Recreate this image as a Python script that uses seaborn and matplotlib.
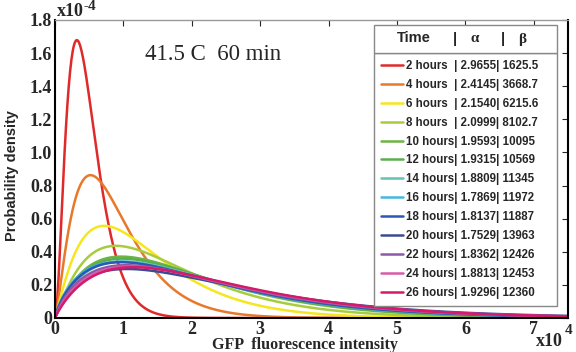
import math
import numpy as np
import pandas as pd
import seaborn as sns
import matplotlib
matplotlib.use("Agg")
import matplotlib.pyplot as plt
from matplotlib.patches import Rectangle

# gamma fit parameters
hours = [2, 4, 6, 8, 10, 12, 14, 16, 18, 20, 22, 24, 26]
alpha_txt = ["2.9655", "2.4145", "2.1540", "2.0999", "1.9593", "1.9315", "1.8809",
             "1.7869", "1.8137", "1.7529", "1.8362", "1.8813", "1.9296"]
beta_txt = ["1625.5", "3668.7", "6215.6", "8102.7", "10095", "10569", "11345",
            "11972", "11887", "13963", "12426", "12453", "12360"]
alpha = [float(a) for a in alpha_txt]
beta = [float(b) for b in beta_txt]
colors = ["#e02a2a", "#e8782a", "#f5e61e", "#a8cc3c", "#6cb444", "#5aae4e", "#62c4b0",
          "#44b8e0", "#2a58b4", "#3c4a94", "#8a5aa8", "#d85aa8", "#d41a6a"]

x = np.linspace(0, 75000, 751)
rows = []
for h, a, b in zip(hours, alpha, beta):
    xx = x[1:]
    pdf = np.exp((a - 1) * np.log(xx) - xx / b - math.lgamma(a) - a * math.log(b))
    rows.append(pd.DataFrame({"x": np.r_[0.0, xx], "pdf": np.r_[0.0, pdf], "t": f"{h} hours"}))
df = pd.concat(rows, ignore_index=True)

sns.set_style("white")
plt.rcParams["font.family"] = ["Liberation Serif", "DejaVu Serif"]

W, H = 576, 352
def fx(px):
    return px / W
def fy(py):
    return 1 - py / H

fig = plt.figure(figsize=(5.76, 3.52), dpi=100)
ax = fig.add_axes([fx(55), fy(318), 513 / W, 298 / H])
order = [f"{h} hours" for h in hours]
sns.lineplot(data=df, x="x", y="pdf", hue="t", hue_order=order,
             palette=colors, linewidth=1.8, legend=False, ax=ax)

ax.set_xlim(0, 75000)
ax.set_ylim(0, 1.8e-4)
ax.set_xticks(np.arange(0, 80000, 10000))
ax.set_xticklabels([str(i) for i in range(8)])
ax.set_yticks(np.arange(0, 1.81e-4, 0.2e-4))
ax.set_yticklabels(["0"] + [f"{v:.1f}" for v in np.arange(0.2, 1.81, 0.2)])
ax.tick_params(direction="in", length=4, top=True, right=True, labelsize=13, pad=2)
for lab in ax.get_xticklabels() + ax.get_yticklabels():
    lab.set_fontweight("bold")
ax.set_xlabel("")
ax.set_ylabel("")
for s in ["left", "bottom", "right"]:
    ax.spines[s].set_color("black")
    ax.spines[s].set_linewidth(1.5)
ax.spines["top"].set_color("#999999")
ax.spines["top"].set_linewidth(1.0)

fig.text(fx(12), 0.5, "Probability density", rotation=90, va="center", ha="center",
         fontsize=10.5, fontweight="bold", family="Liberation Sans")
fig.text(fx(305), fy(345), "GFP  fluorescence intensity", ha="center", va="center",
         fontsize=11.5, fontweight="bold")
fig.text(fx(57), fy(12), "x10", ha="left", va="center", fontsize=13, fontweight="bold")
fig.text(fx(84), fy(6), "-4", ha="left", va="center", fontsize=11, fontweight="bold")
fig.text(fx(536), fy(342), "x10", ha="left", va="center", fontsize=13, fontweight="bold")
fig.text(fx(565), fy(330), "4", ha="left", va="center", fontsize=11, fontweight="bold")
fig.text(fx(145), fy(54), "41.5 C  60 min", fontsize=16.5, ha="left", va="center")

# header box of the legend
fig.patches.append(Rectangle((fx(374), fy(53)), 183 / W, 28 / H, transform=fig.transFigure,
                             facecolor="white", edgecolor="#888888", linewidth=1.0, zorder=5))
hdr = dict(va="center", ha="center", fontweight="bold", zorder=6)
fig.text(fx(414), fy(38), "Time", fontsize=10.5, family="Liberation Sans", **hdr)
fig.text(fx(455), fy(39), "|", fontsize=10.5, family="Liberation Sans", **hdr)
fig.text(fx(475), fy(39), "\u03b1", fontsize=11, **hdr)
fig.text(fx(503), fy(39), "|", fontsize=10.5, family="Liberation Sans", **hdr)
fig.text(fx(522), fy(39), "\u03b2", fontsize=11, **hdr)

labels = []
for h, at, bt in zip(hours, alpha_txt, beta_txt):
    name = f"{h} hours" + ("  " if h < 10 else "")
    labels.append(f"{name}| {at}| {bt}")
x0 = (374 - 55) / 513
top = (318 - 53) / 298
leg = ax.legend(ax.get_lines()[:len(hours)], labels, loc="upper left", mode="expand",
                bbox_to_anchor=(x0, top - 0.9, 183 / 513, 0.9),
                borderaxespad=0, fancybox=False, framealpha=1, edgecolor="#888888",
                prop={"family": "Liberation Sans", "weight": "bold", "size": 8.3},
                handlelength=1.9, handletextpad=0.25, labelspacing=0.6,
                borderpad=0.6, frameon=True)
leg.get_frame().set_linewidth(1.0)

fig.savefig("out.png", dpi=100)
